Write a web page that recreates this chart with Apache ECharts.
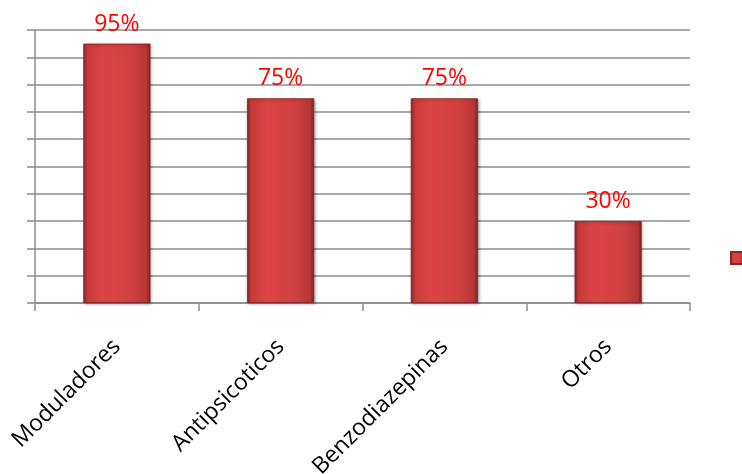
<!DOCTYPE html>
<html><head><meta charset="utf-8">
<script src="https://cdn.jsdelivr.net/npm/echarts@6/dist/echarts.min.js"></script>
<style>html,body{margin:0;padding:0;background:#fff}#c{width:742px;height:474px}</style>
</head><body><div id="c"></div>
<script>
const categories = ['Moduladores', 'Antipsicoticos', 'Benzodiazepinas', 'Otros'];
const values = [95, 75, 75, 30];
const seriesName = 'Serie 1';

const chart = echarts.init(document.getElementById('c'), null, {renderer: 'canvas'});
const barGrad = new echarts.graphic.LinearGradient(0, 0, 1, 0, [
  {offset: 0, color: '#8e2a2a'},
  {offset: 0.06, color: '#c83a3a'},
  {offset: 0.3, color: '#dc4444'},
  {offset: 0.7, color: '#d04040'},
  {offset: 0.94, color: '#b83636'},
  {offset: 1, color: '#7a2222'}
]);
chart.setOption({
  animation: false,
  grid: {left: 35, right: 52, top: 30, bottom: 171, containLabel: false, outerBoundsMode: 'none'},
  legend: {
    left: 730, top: 250, orient: 'vertical',
    itemWidth: 12, itemHeight: 12, itemGap: 10, padding: 0,
    textStyle: {fontFamily: 'Open Sans', fontSize: 16, color: '#000'},
    data: [{name: seriesName, icon: 'rect'}]
  },
  xAxis: {
    type: 'category', data: categories,
    axisLine: {lineStyle: {color: '#8c8c8c', width: 1.5}},
    axisTick: {show: true, length: 8, lineStyle: {color: '#8c8c8c', width: 1.5}},
    axisLabel: {rotate: 45, margin: 40, fontFamily: 'Open Sans', fontSize: 23, color: '#000'}
  },
  yAxis: {
    type: 'value', min: 0, max: 100, interval: 10,
    axisLine: {show: true, lineStyle: {color: '#8c8c8c', width: 1.5}},
    axisTick: {show: true, length: 8, lineStyle: {color: '#8c8c8c', width: 1.5}},
    axisLabel: {show: false},
    splitLine: {lineStyle: {color: '#8c8c8c', width: 1.5}}
  },
  series: [{
    name: seriesName, type: 'bar', data: values, barWidth: '41%',
    itemStyle: {color: barGrad, borderColor: '#8a2525', borderWidth: 0.8,
      shadowColor: 'rgba(0,0,0,0.35)', shadowBlur: 3, shadowOffsetX: 1, shadowOffsetY: 1},
    label: {show: true, position: 'top', distance: 8, formatter: '{c}%',
      fontFamily: 'Open Sans', fontSize: 23, color: '#ff0000'}
  }]
});
</script></body></html>
